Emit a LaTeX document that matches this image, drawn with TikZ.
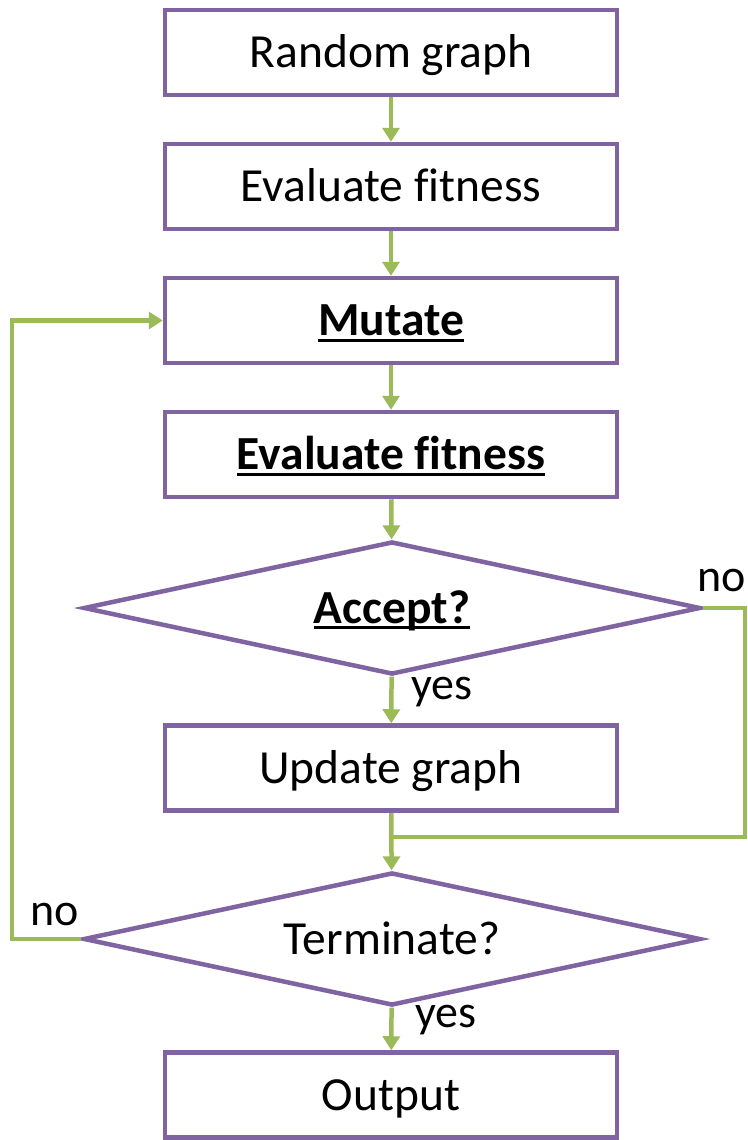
\documentclass[tikz,border=0pt]{standalone}
\usepackage{fontspec}
\setmainfont[Ligatures=NoCommon]{Carlito}
\usetikzlibrary{arrows.meta,shapes.geometric}
\definecolor{boxpurple}{HTML}{8064A2}
\definecolor{arrgreen}{HTML}{9BBB59}
\newcommand\myul[1]{\setbox0\hbox{#1}\rlap{\rule[-6pt]{\wd0}{3pt}}\box0}
\begin{document}
\begin{tikzpicture}[x=1pt,y=-1pt,
  stepbox/.style={draw=boxpurple,line width=4.5pt,minimum width=452pt,minimum height=85pt,inner sep=0pt,fill=white,
    text height=34pt,text depth=4pt,font=\fontsize{47.5}{56}\selectfont},
  decide/.style={draw=boxpurple,line width=4.5pt,shape=diamond,aspect=4.6,minimum width=617pt,minimum height=133pt,inner sep=0pt,fill=white,
    text height=34pt,text depth=4pt,font=\fontsize{47.5}{56}\selectfont},
  conn/.style={draw=arrgreen,line width=4.5pt},
  arr/.style={conn,-{Triangle[length=14pt,width=17pt]}},
  lbl/.style={font=\fontsize{46}{54}\selectfont,inner sep=0pt}]
\useasboundingbox (0,0) rectangle (747,1140);
\node[stepbox] (b1) at (391,52.5) {Random graph};
\node[stepbox] (b2) at (391,186.5) {Evaluate fitness};
\node[stepbox] (b3) at (391,320.5) {\myul{\textbf{Mutate}}};
\node[stepbox] (b4) at (391,454.5) {\myul{\textbf{Evaluate fitness}}};
\node[decide] (d1) at (392,608) {\myul{\textbf{Accept?}}};
\node[stepbox] (b5) at (391,768) {Update graph};
\node[decide] (d2) at (392,939) {Terminate?};
\node[stepbox] (b6) at (391,1095) {Output};
\coordinate (m) at (391,837);
\coordinate (rc) at (745,837);
\coordinate (lc) at (12,939);
\draw[arr] (b1) -- (b2);
\draw[arr] (b2) -- (b3);
\draw[arr] (b3) -- (b4);
\draw[arr] (b4) -- (d1);
\draw[arr] (d1) -- (b5);
\draw[arr] (b5) -- (d2);
\draw[arr] (d2) -- (b6);
\draw[conn] (d1.east) -| (rc) -- (m);
\draw[arr] (d2.west) -- (lc) |- (b3.west);
\node[lbl] (no1) at (722,580) {no};
\node[lbl] (yes1) at (442,692) {yes};
\node[lbl] (no2) at (55,914) {no};
\node[lbl] (yes2) at (446,1020) {yes};
\end{tikzpicture}
\end{document}
